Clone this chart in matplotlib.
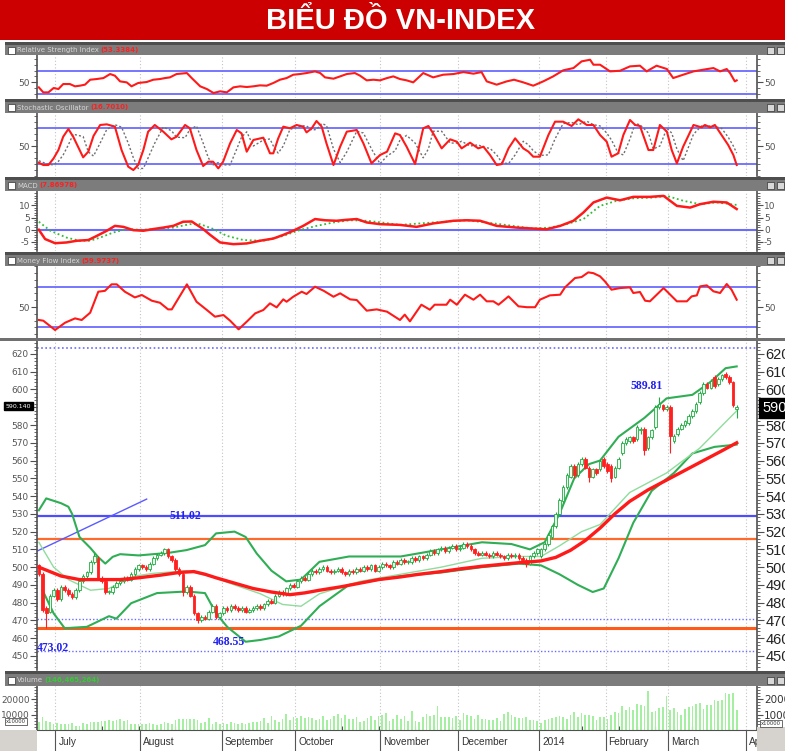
import numpy as np
import matplotlib.pyplot as plt
from matplotlib.patches import Rectangle
from matplotlib.text import Annotation
from matplotlib.ticker import MultipleLocator

plt.rcParams['axes.unicode_minus'] = False

W, H = 785, 751

# trading-day index: 0 = late June 2013, 189 = last session of March 2014
month_names = ['July', 'August', 'September', 'October', 'November',
               'December', '2014', 'February', 'March', 'April']
month_start = [5, 28, 50, 70, 93, 114, 136, 154, 171, 192]

closes = [496, 476, 474, 484, 487, 482, 489, 487, 485, 483,
          487, 492, 495, 497, 503, 506, 494, 492, 486, 486,
          489, 491, 492, 494, 493, 496, 499, 501, 500, 499,
          502, 505, 507, 508, 510, 506, 504, 499, 496, 486,
          489, 484, 474, 470, 472, 471, 475, 478, 472, 474,
          477, 476, 478, 477, 476, 477, 475, 476, 477, 478,
          477, 479, 481, 480, 484, 486, 485, 488, 490, 489,
          492, 494, 493, 496, 498, 497, 499, 500, 498, 497,
          498, 499, 497, 496, 498, 497, 499, 498, 500, 499,
          501, 498, 500, 502, 501, 500, 503, 502, 504, 503,
          503, 505, 504, 506, 505, 507, 509, 508, 510, 511,
          509, 511, 512, 510, 511, 513, 512, 510, 508, 507,
          508, 507, 506, 508, 507, 506, 505, 507, 506, 507,
          505, 504, 502, 506, 508, 510, 510, 513, 518, 523,
          530, 538, 545, 552, 557, 552, 558, 561, 556, 551,
          555, 553, 560, 557, 554, 550, 556, 561, 570, 572,
          573, 571, 579, 578, 566, 573, 577, 590, 592, 589,
          590, 574, 574, 578, 580, 582, 585, 588, 592, 598,
          603, 601, 605, 602, 606, 608, 607, 604, 591, 590.14]
opens = [501, 496, 477, 475, 484, 487, 482, 489, 487, 485,
         483, 487, 492, 495, 497, 503, 505, 494, 492, 486,
         486, 489, 491, 492, 494, 493, 496, 499, 501, 500,
         499, 502, 505, 507, 508, 510, 506, 504, 499, 496,
         486, 489, 484, 474, 470, 472, 471, 475, 478, 472,
         474, 477, 476, 478, 477, 476, 477, 475, 476, 477,
         478, 477, 479, 481, 480, 484, 486, 485, 488, 490,
         489, 492, 494, 493, 496, 498, 497, 499, 500, 498,
         497, 498, 499, 497, 496, 498, 497, 499, 498, 500,
         499, 501, 498, 500, 502, 501, 500, 503, 502, 504,
         503, 503, 505, 504, 506, 505, 507, 509, 508, 510,
         511, 509, 511, 512, 510, 511, 513, 512, 510, 508,
         507, 508, 507, 506, 508, 507, 506, 505, 507, 506,
         507, 505, 504, 502, 506, 508, 506, 510, 513, 517,
         523, 530, 537, 545, 551, 557, 552, 558, 561, 556,
         551, 555, 555, 561, 558, 557, 551, 556, 564, 570,
         571, 573, 572, 577, 578, 567, 573, 579, 590, 591,
         589, 590, 571, 575, 578, 580, 581, 585, 588, 593,
         598, 603, 601, 607, 603, 606, 609, 607, 604, 589]
highs = [502, 497, 478, 485, 488, 488, 490, 490, 488, 486,
         488, 493, 496, 498, 504, 507.7, 506, 495, 493, 487,
         490, 492, 493, 495, 495, 497, 500, 502, 502, 501,
         503, 506, 508, 509, 511, 511, 507, 505, 500, 497,
         490, 490, 485, 475, 473, 473, 476, 479, 479, 475,
         478, 478, 479, 479, 478, 478, 478, 477, 478, 479,
         479, 480, 482, 482, 485, 487, 487, 489, 491, 491,
         493, 495, 495, 497, 499, 499, 500, 501, 501, 499,
         499, 500, 500, 498, 499, 499, 500, 500, 501, 501,
         502, 502, 501, 503, 503, 502, 504, 504, 505, 505,
         504, 506, 506, 507, 507, 508, 510, 510, 511, 512,
         512, 512, 513, 513, 512, 514, 514, 513, 511, 509,
         509, 509, 508, 509, 509, 508, 507, 508, 508, 508,
         508, 506, 505, 507, 509, 511, 511, 514, 519, 524,
         531, 539, 546, 553, 558, 558, 559, 562, 562, 557,
         556, 556, 561, 562, 559, 558, 557, 562, 571, 573,
         574, 574, 580, 579, 579, 574, 578, 591, 596, 592,
         591, 591, 575, 579, 581, 583, 586, 589, 593, 599,
         604, 604, 606, 608, 607, 609, 610, 608, 605, 591]
lows = [495, 475, 466, 474, 483, 481, 481, 486, 484, 482,
        482, 486, 491, 494, 496, 502, 493, 491, 485, 485,
        485, 488, 490, 491, 492, 492, 495, 498, 499, 498,
        498, 501, 504, 506, 507, 505, 503, 498, 495, 484,
        485, 483, 473, 468.5, 469, 470, 470, 474, 471, 471,
        473, 475, 475, 476, 475, 475, 474, 474, 475, 476,
        476, 476, 478, 479, 479, 483, 484, 484, 487, 488,
        488, 491, 492, 492, 495, 496, 496, 498, 497, 496,
        496, 497, 496, 495, 495, 496, 496, 497, 497, 498,
        498, 497, 497, 499, 500, 499, 499, 501, 501, 502,
        502, 502, 503, 503, 504, 504, 506, 507, 507, 509,
        508, 508, 510, 509, 509, 510, 511, 509, 507, 506,
        506, 506, 505, 505, 506, 505, 504, 504, 505, 505,
        504, 503, 500, 501, 505, 507, 505, 509, 512, 516,
        522, 529, 536, 544, 550, 550, 551, 557, 555, 548,
        550, 552, 554, 556, 553, 548, 550, 555, 563, 569,
        570, 570, 571, 575, 563, 566, 572, 578, 589, 588,
        588, 564, 570, 574, 577, 579, 580, 584, 587, 592,
        597, 600, 600, 601, 602, 605, 606, 603, 590, 584]
volume = [5200, 8200, 6000, 5500, 4200, 4800, 4000, 3900, 4100, 4300,
          2500, 2300, 4400, 4200, 4900, 5500, 5300, 5800, 5600, 6300,
          5900, 6400, 7000, 5700, 6200, 4100, 3900, 3600, 4200, 3800,
          4700, 4000, 3500, 4100, 5000, 4800, 3900, 6400, 7000, 7200,
          7000, 7300, 7100, 6500, 4700, 5400, 7600, 4200, 5300, 4000,
          4500, 3900, 5200, 4400, 3800, 4600, 4100, 4300, 5100, 4900,
          5600, 7800, 4700, 9200, 6800, 5200, 7300, 10300, 6600, 8200,
          8000, 9000, 7800, 8400, 8000, 6200, 7400, 8800, 6400, 7100,
          9000, 10600, 7800, 9600, 6900, 7300, 8200, 5100, 6000, 7700,
          8800, 6500, 9200, 9800, 11200, 5700, 7100, 9900, 7000, 9000,
          5600, 12100, 6000, 5000, 8200, 10200, 9000, 9700, 15500, 8700,
          8200, 8400, 8000, 9200, 6800, 10800, 9600, 8800, 7300, 9600,
          7100, 7000, 6200, 6800, 7600, 6000, 10200, 11800, 10000, 8100,
          8000, 7800, 8100, 6500, 6200, 6000, 4700, 6700, 7000, 7500,
          8600, 9100, 8700, 7200, 9900, 11600, 8300, 11200, 10000, 9400,
          8800, 6700, 8100, 8300, 7200, 9700, 11800, 10700, 15300, 12900,
          14600, 13200, 16600, 16000, 15800, 25000, 11500, 12500, 14000, 14600,
          22000, 12700, 14000, 11800, 10000, 13300, 15000, 15800, 16600, 17500,
          13400, 15900, 16000, 19500, 18900, 19300, 23800, 23500, 23800, 12800]

# overlays on the price panel (read at irregular sessions)
ma_day = [0, 6, 11, 17, 22, 27, 33, 38, 42, 45, 48, 53, 58, 63, 68, 72, 76, 82, 87, 92,
          98, 103, 109, 114, 120, 125, 130, 136, 140, 144, 148, 152, 156, 160, 165, 170,
          175, 180, 185, 189]
ma_val = [500, 495, 493, 493, 493, 494, 495.5, 497, 497.5, 496, 494, 491, 488, 486, 484.5,
          485.5, 487, 489, 491, 493, 494.5, 496, 497.5, 499, 500.5, 501.5, 502.5, 503.5,
          505.5, 509.5, 515, 522, 530, 537, 543.5, 549, 554.5, 560, 565.5, 570]
mid_day = [0, 4, 8, 14, 19, 26, 31, 40, 47, 53, 60, 66, 71, 76, 87, 98, 109, 120, 130,
           136, 141, 147, 152, 160, 170, 179, 189]
mid_val = [514, 500, 493, 487, 488, 495, 496.5, 498, 494.5, 490, 485, 479, 478, 485, 492,
           496, 500, 505, 506, 506, 512, 520, 524, 542, 553, 567, 588]
up_day = [0, 2, 6, 8, 9, 11, 14, 16, 18, 20, 22, 27, 35, 40, 45, 48, 53, 56, 59, 63, 67,
          71, 76, 84, 98, 109, 120, 128, 133, 137, 141, 145, 149, 152, 157, 164, 170, 177,
          182, 186, 189]
up_val = [532, 538.7, 536, 534, 530, 517, 510.7, 505.8, 502, 505.8, 507.3, 506.6, 508,
          509.6, 512.4, 519, 520, 517, 507.7, 498, 492, 493, 503, 506, 506, 510, 514, 513,
          510, 514, 530, 550, 558, 560, 573.4, 584, 595, 597, 604.4, 612, 613]
lo_day = [1, 4, 7, 13, 19, 21, 25, 32, 40, 45, 48, 51, 56, 60, 65, 71, 76, 84, 98, 109,
          120, 130, 136, 141, 146, 150, 153, 157, 161, 166, 172, 177, 183, 189]
lo_val = [487, 474, 465.6, 466.4, 472.4, 471, 479.7, 485.4, 486.3, 485.4, 474, 466.4, 458,
          459, 461, 467, 478, 490, 495, 497, 500, 502, 501, 496, 490, 486, 488, 505, 525,
          543, 553, 564, 567.7, 569]

rsi_day = [0, 1.2, 2.6, 4, 5.3, 6.6, 8.4, 9.8, 11.1, 12.5, 13.9, 15.7, 17.5, 19.3, 20.6, 22,
           23.8, 25.1, 26.9, 29.2, 31, 32.8, 34.2, 35.5, 37.3, 40.1, 41.4, 43.7, 45.5, 47.3,
           49.1, 50.9, 52.7, 54.5, 56.3, 58.1, 59.9, 61.7, 63.5, 65.3, 67.1, 68.9, 70.7,
           72.5, 74.8, 76.2, 77.5, 79.8, 81.6, 83.4, 85.6, 87, 88.8, 90.6, 92.4, 94.3, 96,
           97.8, 99.6, 101.4, 104.1, 106.8, 109.5, 112.3, 115, 117.7, 119.9, 121.3, 124,
           126.7, 128.7, 131.2, 133.9, 136.6, 139.3, 142, 144.8, 147, 149.3, 150.2, 152,
           154.7, 157.4, 160.1, 162.8, 164.6, 167.3, 170.1, 171.8, 174.5, 177.3, 180,
           182.7, 184.5, 186.3, 187.2, 188.5, 189]
rsi_val = [41, 32.3, 32.3, 39.9, 38.1, 46.8, 46.8, 42.8, 43.9, 45.7, 54.3, 55.5, 57.2, 64.2,
           61.3, 51.4, 49.7, 42.8, 48.6, 50.3, 54.3, 55.5, 57.2, 58.4, 64.2, 65.9, 57.2,
           42.8, 38.1, 31.2, 34.1, 32.3, 41, 42.8, 41.6, 42.8, 44.5, 43.9, 48.6, 54.3, 57.2,
           63, 64.2, 65.9, 68.8, 65.9, 58.4, 56.1, 60.1, 64.2, 65.9, 61.3, 53.2, 54.3, 53.2,
           57.2, 60.1, 55.5, 53.2, 49.7, 65.9, 58.4, 63, 64.2, 67.6, 64.8, 67.6, 51.4, 45.7,
           51.4, 54.3, 49.7, 43.9, 51.4, 60.1, 70.6, 74.6, 86.2, 89.1, 80.4, 80.4, 68.8,
           69.9, 77.5, 78.7, 68.8, 78.7, 72.9, 57.2, 63, 68.8, 71.8, 74.6, 68.8, 72.9, 65.9,
           51.4, 53.2]

sto_day = [0, 1.2, 2.6, 4, 5.3, 6.6, 8, 9.3, 12, 13.4, 14.8, 16.6, 18.4, 20.6, 22.4, 24.2,
           25.6, 26.9, 28.3, 29.6, 31.4, 33.7, 35.9, 37.3, 39.6, 40.9, 42.7, 44.5, 45.9,
           47.2, 48.6, 49.9, 51.8, 53.6, 54.9, 56.3, 58.1, 60.8, 62.6, 63.5, 64.8, 66.2, 68,
           69.8, 71.6, 72.5, 73.9, 75.2, 76.6, 77.9, 79.8, 81.6, 83.4, 86.1, 87.9, 90.1,
           92.4, 94.3, 96.5, 97.8, 99.6, 101.9, 104.1, 105.5, 106.8, 109.1, 111.4, 113.2,
           114.5, 116.8, 119, 120.4, 122.2, 124, 125.4, 127.2, 129, 131.2, 132.6, 133.9,
           135.7, 138, 139.8, 142, 144.3, 146.1, 148.4, 150.2, 152, 153.8, 155.1, 156.9,
           158.3, 160.1, 161.5, 162.8, 165.1, 166.4, 168.2, 170.1, 171.4, 172.8, 174.5,
           177.3, 179.5, 180.4, 181.8, 183.1, 184.9, 186.7, 188.1, 189]
sto_k = [21.7, 17.8, 17.8, 29.1, 43.2, 65.8, 78.8, 65.8, 30.8, 40.4, 67, 85.6, 86.7, 82.8,
         43.2, 15, 9.3, 17.8, 43.2, 74.3, 85.6, 74.3, 61.3, 65.8, 85.6, 80, 43.2, 16.1, 23.4,
         23.4, 12.1, 23.4, 54.5, 77.1, 71.4, 40.4, 60.2, 64.1, 37.6, 37.6, 62.5, 82.8, 80,
         85.6, 82.8, 73.1, 80, 92.4, 82.8, 54.5, 17.8, 48.8, 74.3, 77.1, 54.5, 20.6, 34.7,
         40.4, 71.4, 68.6, 48.9, 19.5, 79.9, 83.9, 71.5, 46, 61.3, 57.3, 46, 55.6, 46, 48.9,
         34.7, 17.8, 19.5, 46, 63, 46, 40.4, 31.9, 31.9, 68.6, 91.2, 91.2, 83.9, 95.2, 85.6,
         85.6, 68.6, 57.3, 31.9, 37.6, 68.6, 94.1, 85.6, 83.9, 43.2, 43.2, 85.6, 74.3, 43.2,
         20.6, 48.9, 85.6, 81.6, 85.6, 81.6, 85.6, 68.6, 51.7, 34.7, 17.8]
sto_d = [25, 22, 19, 18, 24, 35, 52, 70, 66, 40, 33, 55, 78, 86, 82, 55, 30, 12, 12, 30, 55,
         82, 76, 65, 64, 78, 84, 55, 30, 18, 22, 18, 18, 45, 65, 74, 50, 60, 62, 50, 38, 50,
         78, 82, 84, 84, 77, 78, 88, 85, 45, 22, 40, 75, 72, 45, 20, 33, 42, 60, 68, 55, 30,
         45, 75, 75, 55, 55, 58, 50, 52, 48, 46, 35, 22, 20, 35, 58, 52, 42, 34, 35, 62, 88,
         90, 86, 92, 86, 84, 72, 60, 38, 35, 62, 88, 86, 72, 45, 50, 80, 72, 45, 25, 70, 84,
         83, 84, 83, 80, 65, 50, 38]

macd_day = [0, 1.7, 4.4, 7.5, 10.3, 13.4, 15.7, 18.4, 20.6, 22.9, 25.6, 28.3, 31, 33.7,
            36.4, 39.1, 41.4, 43.2, 44.5, 46.4, 49.1, 52.7, 56.3, 59.9, 63.5, 66.2, 68.9,
            71.6, 74.8, 77.5, 80.6, 83.4, 86.1, 88.8, 92.4, 97.8, 102.3, 106.8, 112.3, 115.9,
            119.5, 124, 129.4, 133.9, 137.5, 141.2, 144.8, 147.5, 150.2, 153.8, 157.4, 161,
            165.5, 169.2, 172.8, 176.4, 179.1, 182.7, 186.3, 189]
macd_val = [0, -3.8, -5.5, -5.2, -4.5, -4.2, -2.5, -0.4, 1.6, 1.2, -0.15, -0.4, 0.3, 0.9,
            1.6, 3.3, 3.4, 1.6, 0.3, -2.1, -5.2, -5.9, -5.6, -4.5, -3.6, -2.1, -0.4, 1.6, 4.4,
            3.9, 3.7, 4.1, 4.4, 3, 2.3, 2, 1.2, 2.6, 3.7, 3.9, 3.7, 1.6, 0.9, 0.5, 0.2, 1.6,
            3.7, 7.1, 11.2, 13.2, 12.1, 13.5, 13.5, 13.9, 9.8, 9.1, 10.5, 11.5, 11.2, 8.5]
sig_day = [0, 3.1, 7.5, 11.1, 13.9, 16.6, 20.2, 23.8, 27.4, 31.9, 36.4, 40.9, 43.7, 47.3,
           50.9, 55.4, 60.8, 66.2, 70.7, 75.2, 79.8, 84.3, 88.8, 93.3, 97.8, 106.8, 115.9,
           124.9, 133.9, 138.4, 142.9, 147.5, 152, 156.5, 161, 166.4, 170.1, 174.5, 179.1,
           183.6, 189]
sig_val = [3.3, -0.4, -3.2, -4.5, -4.5, -3.2, -1.1, 0.3, 0, 0.3, 0.9, 2.3, 2.3, 0.3, -2.5,
           -4.2, -4.5, -2.5, -0.1, 1.6, 3, 3.9, 3.7, 2.9, 2, 3, 3.9, 2.3, 0.5, 0.9, 2.3, 4.4,
           9.8, 11.9, 12.9, 13.2, 13.9, 11.9, 10.5, 11.2, 10.2]

mfi_day = [0, 1.2, 4.4, 7.1, 9.8, 11.6, 13.9, 16.1, 17.9, 19.7, 21.1, 23.3, 26, 27.9, 30.6,
           32.8, 35, 36, 40.1, 42.7, 45.5, 47.7, 50, 51.8, 54.1, 56.3, 58.6, 60.8, 62.6,
           64.4, 66.2, 67.1, 68.9, 71.2, 72.5, 74.8, 77.1, 79.8, 81.6, 84.3, 86.1, 88.8,
           91.5, 94.3, 97.8, 99.1, 100.5, 103.6, 105.9, 107.2, 110.4, 111.4, 113.2, 115.4,
           117.7, 119.5, 121.3, 123.1, 124.5, 127.2, 129.9, 132.2, 134.4, 135.7, 138.4,
           141.2, 142.5, 145.2, 147, 148.8, 150.2, 152, 153.3, 155.1, 157.4, 160.1, 161,
           162.8, 164.2, 165.5, 169.2, 172.8, 175.5, 176.8, 178.2, 179.1, 180.9, 182.7,
           184.5, 186.3, 187.6, 189]
mfi_val = [30.8, 29.8, 16, 26.8, 33.2, 30.8, 41.6, 72.6, 73.9, 83.5, 83.5, 72.6, 64.2, 67.7,
           59.3, 56.3, 46.5, 46.5, 83.5, 57.8, 45.6, 35.7, 38.1, 29.8, 17, 28.3, 40.6, 45.6,
           55.4, 49.5, 61.3, 57.8, 65.2, 72.6, 69.2, 80, 74.1, 65.2, 70.2, 61.3, 60.3, 44.6,
           46.5, 43.1, 30.8, 38.7, 28.8, 53.4, 46, 53.4, 53.4, 60.8, 53.4, 68.2, 60.8, 68.2,
           58.4, 58.4, 53.4, 65.7, 51, 49.7, 49.7, 60.8, 67.2, 68.2, 79, 92.8, 94.3, 101.2,
           100, 95.3, 87.9, 75.6, 78, 79, 70.7, 72.2, 59.3, 58.4, 78, 58.4, 58.4, 65.7, 67.2,
           80.5, 82, 73.2, 70.7, 84, 75.6, 60.8]

price_ticks = list(range(450, 621, 10))
price_labels = ['' if p == 590 else str(p) for p in price_ticks]  # 590 sits under the value boxes

RED = '#ff1a1a'
BLUE = '#6b6bff'
GRID = '#c4c4c4'
SANS = ['Liberation Sans', 'DejaVu Sans']


def px_axes(x0, y0, x1, y1):
    return fig.add_axes([x0 / W, 1 - y1 / H, (x1 - x0) / W, (y1 - y0) / H])


def fig_rect(x0, y0, x1, y1, **kw):
    fig.add_artist(Rectangle((x0 / W, 1 - y1 / H), (x1 - x0) / W, (y1 - y0) / H,
                             transform=fig.transFigure, **kw))


def header(y0, y1, name, value, vcolor):
    fig_rect(5, y0, W, y1, facecolor='#7c7c7c', edgecolor='none')
    fig_rect(5, y0, W, y0 + 3, facecolor='#4e4e4e', edgecolor='none')
    yc = (y0 + 3 + y1) / 2
    fig_rect(8, yc - 3.5, 15, yc + 3.5, facecolor='white', edgecolor='#333333', lw=0.5)
    t = fig.text(17 / W, 1 - yc / H, name, fontsize=5, color='#d6d6d6', va='center')
    fig.add_artist(Annotation(value, xy=(1, 0.5), xycoords=t, xytext=(1, 0),
                              textcoords='offset points', va='center', fontsize=5,
                              color=vcolor, fontweight='bold'))
    for bx in (767, 777):
        fig_rect(bx, yc - 3.5, bx + 7, yc + 3.5, facecolor='#d8d8d8', edgecolor='#333333', lw=0.5)


def style(ax, ylim, ticks, minor, labels=None, lsize=6.5, rsize=6.5, rcolor='#555555'):
    ax.set_xlim(-0.5, 194.5)
    ax.set_ylim(*ylim)
    ax.set_xticks([])
    ax.set_yticks(ticks, labels=labels)
    ax.yaxis.set_minor_locator(MultipleLocator(minor))
    for s in ('top', 'bottom'):
        ax.spines[s].set_visible(False)
    for s in ('left', 'right'):
        ax.spines[s].set_color('#505050')
        ax.spines[s].set_linewidth(1.2)
    ax.tick_params(axis='y', which='both', left=True, right=True, color='#505050', pad=1)
    ax.tick_params(axis='y', which='major', length=4, labelleft=True, labelright=True,
                   labelsize=lsize, labelcolor='#555555')
    ax.tick_params(axis='y', which='minor', length=2)
    for t in ax.yaxis.get_major_ticks():
        t.label2.set_fontsize(rsize)
        t.label2.set_color(rcolor)
    for m in month_start:
        ax.axvline(m - 0.5, color=GRID, ls=(0, (1, 2)), lw=0.8, zorder=0)


fig = plt.figure(figsize=(W / 100, H / 100), dpi=100)
fig.patch.set_facecolor('white')

# title band
fig_rect(0, 0, W, 40, facecolor='#cc0000', edgecolor='none')
fig.text(400 / W, 1 - 21 / H, 'BIỂU ĐỒ VN-INDEX', color='white', fontsize=21, fontweight='bold',
         ha='center', va='center', family=SANS)

# ---- RSI ----
header(42, 55, 'Relative Strength Index', '(53.3384)', '#ff2020')
ax = px_axes(37, 55, 757, 98)
style(ax, (22.5, 97.3), [50], 10)
ax.axhline(70, color=BLUE, lw=1.3)
ax.axhline(30, color=BLUE, lw=1.3)
ax.plot(rsi_day, rsi_val, color=RED, lw=1.5)

# ---- Stochastic ----
header(99, 113, 'Stochastic Oscillator', '(16.7010)', '#ff2020')
ax = px_axes(37, 113, 757, 176)
style(ax, (-0.8, 105.9), [50], 10)
ax.axhline(80, color=BLUE, lw=1.3)
ax.axhline(20, color=BLUE, lw=1.3)
ax.plot(sto_day, sto_d, color='#707070', lw=1.0, ls=(0, (1.5, 1.5)))
ax.plot(sto_day, sto_k, color=RED, lw=1.5)

# ---- MACD ----
header(177, 191, 'MACD', '(7.86978)', '#ff2020')
ax = px_axes(37, 191, 757, 251)
style(ax, (-8.7, 15.9), [-5, 0, 5, 10], 1)
ax.axhline(0, color=BLUE, lw=1.5)
ax.plot(sig_day, sig_val, color='#33bb33', lw=1.3, ls=(0, (1, 1.5)))
ax.plot(macd_day, macd_val, color=RED, lw=1.8)

# ---- MFI ----
header(252, 266, 'Money Flow Index', '(59.9737)', '#ff2020')
ax = px_axes(37, 266, 757, 338)
style(ax, (4.2, 110.6), [50], 10)
ax.axhline(80, color=BLUE, lw=1.3)
ax.axhline(20, color=BLUE, lw=1.3)
ax.plot(mfi_day, mfi_val, color=RED, lw=1.5)

fig_rect(0, 338, W, 341, facecolor='#707070', edgecolor='none')

# ---- price ----
ax = px_axes(37, 341, 757, 670)
style(ax, (442.1, 627.3), price_ticks, 2, labels=price_labels, lsize=6.5, rsize=10.5,
      rcolor='#222222')
for t in ax.yaxis.get_major_ticks():
    t.label2.set_family(SANS)
ax.tick_params(axis='y', which='major', right=True, length=5)
ax.axhline(623.5, color=BLUE, lw=1.2, ls=(0, (1, 1.5)))
ax.axhline(470.7, color=BLUE, lw=1.0, ls=(0, (1, 1.5)))
ax.axhline(452.7, color=BLUE, lw=1.0, ls=(0, (1, 1.5)))
ax.axhline(529.0, color='#4d4dff', lw=1.6)
ax.axhline(515.6, color='#ff6a2a', lw=1.6)
ax.axhline(465.5, color='#ff5a1a', lw=2.2)
ax.plot([-0.5, 29.2], [509, 538.3], color='#5a5aff', lw=1.0)

ax.plot(up_day, up_val, color='#2fae55', lw=1.5, zorder=2)
ax.plot(lo_day, lo_val, color='#2fae55', lw=1.5, zorder=2)
ax.plot(mid_day, mid_val, color='#8fdc9c', lw=1.0, zorder=2)

o = np.array(opens, float)
c = np.array(closes, float)
hi = np.array(highs, float)
lo = np.array(lows, float)
x = np.arange(len(c))
up = c >= o
ax.vlines(x[up], lo[up], hi[up], color='#22aa44', lw=0.8, zorder=3)
ax.vlines(x[~up], lo[~up], hi[~up], color='#ff2020', lw=0.8, zorder=3)
body = np.maximum(np.abs(c - o), 0.4)
ax.bar(x[up], body[up], bottom=np.minimum(o, c)[up], width=0.7, facecolor='#e9ffe9',
       edgecolor='#22aa44', lw=0.6, zorder=3)
ax.bar(x[~up], body[~up], bottom=np.minimum(o, c)[~up], width=0.7, facecolor='#ff2020',
       edgecolor='#ff2020', lw=0.6, zorder=3)
ax.plot(ma_day, ma_val, color=RED, lw=2.4, zorder=4)

lab = dict(color='#2222ee', fontsize=8.5, fontweight='bold', family=['Liberation Serif', 'DejaVu Serif'])
ax.text(39.6, 528.6, '511.02', ha='center', va='center', **lab)
ax.text(-0.4, 454.4, '473.02', ha='left', va='center', **lab)
ax.text(51.6, 457.7, '468.55', ha='center', va='center', **lab)
ax.text(164.6, 602, '589.81', ha='center', va='center', **lab)

fig.text(6 / W, 1 - 406 / H, '590.140', fontsize=4.5, color='white', va='center',
         bbox=dict(boxstyle='square,pad=0.25', facecolor='black', edgecolor='black'))
fig.text(762 / W, 1 - 408 / H, '590.140', fontsize=10.5, color='white', va='center',
         family=SANS, bbox=dict(boxstyle='square,pad=0.2', facecolor='black', edgecolor='black'))

# ---- volume ----
header(671, 686, 'Volume', '(146,465,264)', '#33cc33')
ax = px_axes(37, 686, 757, 730)
style(ax, (0, 28500), [10000, 20000], 2000, lsize=6.5, rsize=7.5, rcolor='#333333')
ax.bar(np.arange(len(volume)), volume, width=0.45, color='#a5f0a0', zorder=2)
ax.spines['bottom'].set_visible(True)
ax.spines['bottom'].set_color('#505050')
ax.set_xticks(np.arange(2, 192, 5))
ax.tick_params(axis='x', direction='in', length=3, color='#505050', labelbottom=False)
fig.text(6 / W, 1 - 721.5 / H, 'x10000', fontsize=3.8, color='#333333', va='center',
         bbox=dict(boxstyle='square,pad=0.2', facecolor='white', edgecolor='#333333', lw=0.5))
fig.text(761 / W, 1 - 723.5 / H, 'x10000', fontsize=3.8, color='#333333', va='center',
         bbox=dict(boxstyle='square,pad=0.2', facecolor='white', edgecolor='#333333', lw=0.5))

# ---- month strip ----
ax = px_axes(37, 730, 757, 751)
ax.set_xlim(-0.5, 194.5)
ax.set_ylim(0, 1)
ax.axis('off')
for m, name in zip(month_start, month_names):
    ax.axvline(m - 0.5, color='#555555', lw=0.8)
    ax.text(m + 0.3, 0.45, name, fontsize=7.3, color='#333333', va='center', ha='left',
            family=SANS, clip_on=True)
fig_rect(0, 730, 37, 751, facecolor='#d6d3ce', edgecolor='none')
fig_rect(757, 727, W, 751, facecolor='#d6d3ce', edgecolor='none')

fig.savefig('out.png', dpi=100)
